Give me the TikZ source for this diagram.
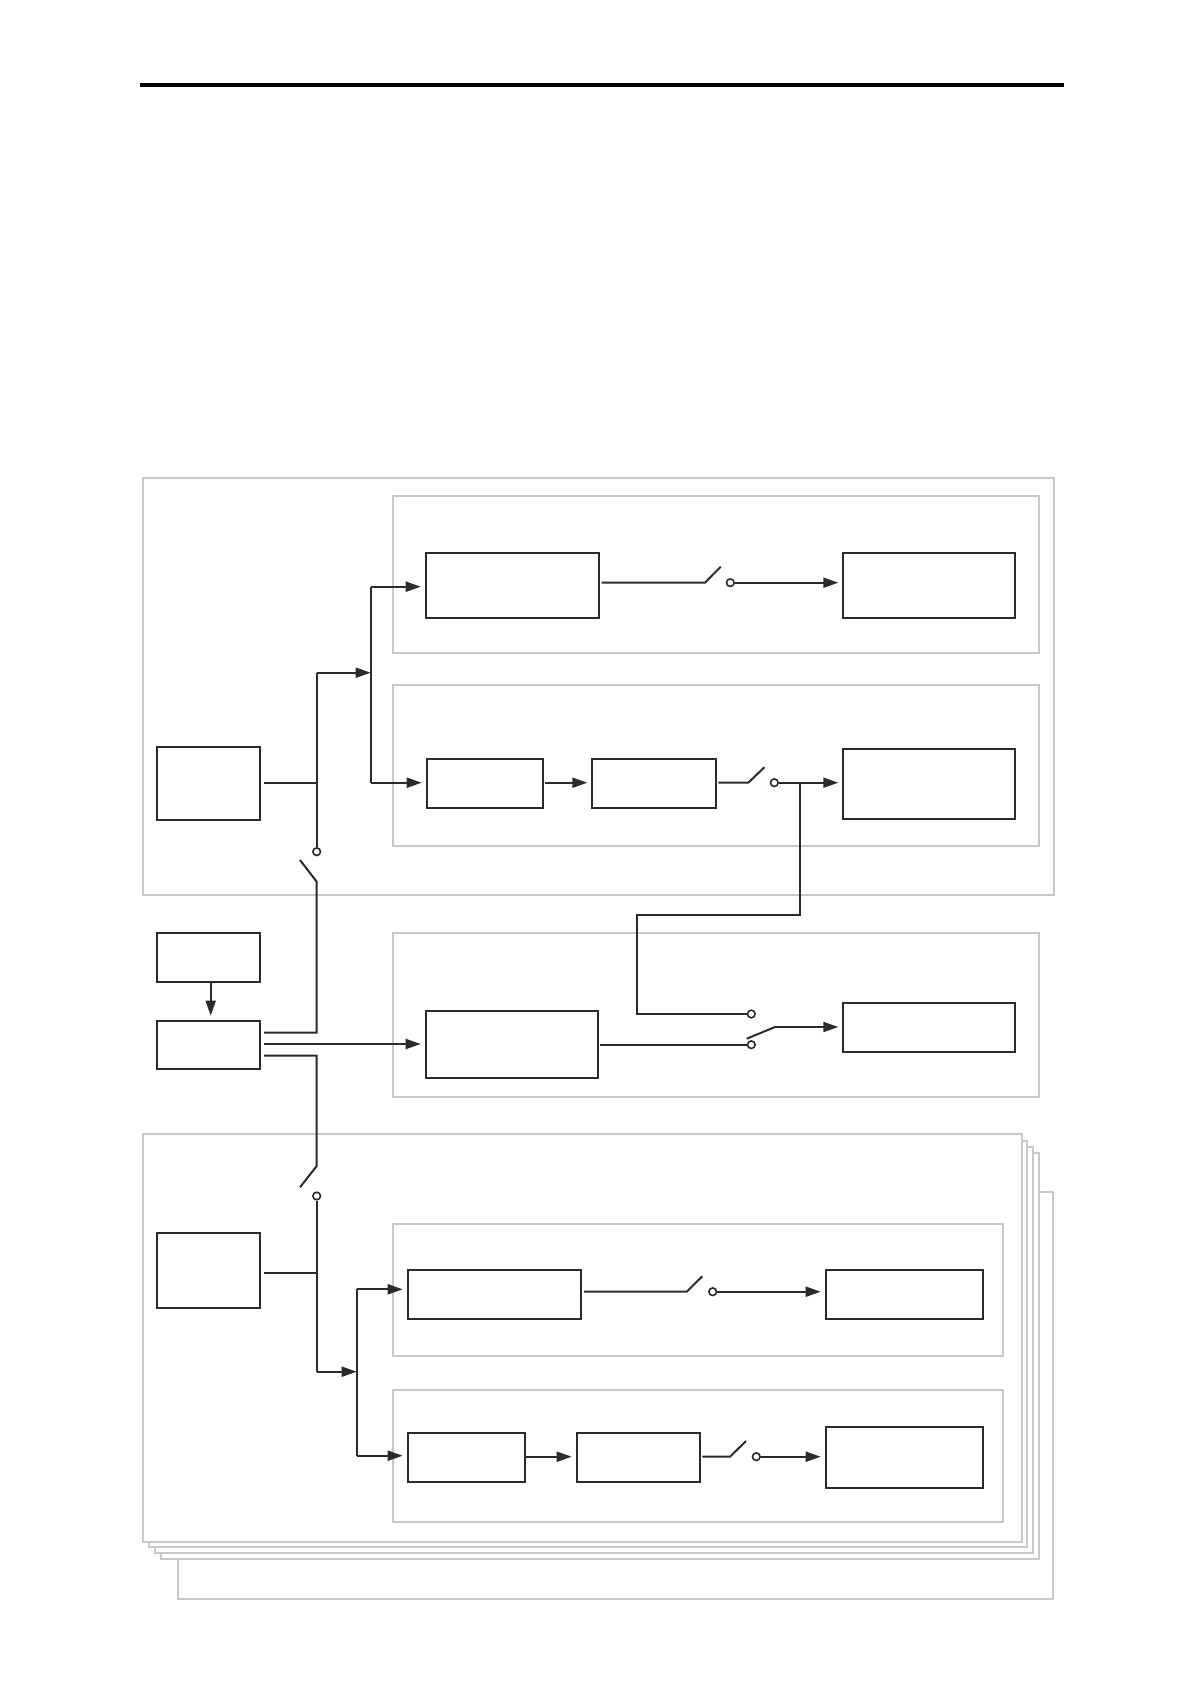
\documentclass[tikz,border=0pt]{standalone}
\usetikzlibrary{arrows.meta,fit,calc}
\definecolor{ink}{HTML}{2B2B2B}
\definecolor{panelgray}{HTML}{C8C8C8}
\tikzset{
  blk/.style={draw=ink, line width=1.1pt, fill=white, inner sep=0pt, outer sep=0pt},
  panel/.style={draw=panelgray, line width=1pt, fill=white},
  wire/.style={draw=ink, line width=1pt},
  arr/.style={wire, -{Triangle[length=7.5pt,width=5pt]}, shorten >=2.5pt},
  barr/.style={wire, -{Triangle[length=7.5pt,width=5pt]}},
  term/.style={circle, draw=ink, line width=0.8pt, fill=white, inner sep=0pt, minimum size=3.8pt}
}
\begin{document}
\begin{tikzpicture}[x=0.5pt,y=-0.5pt]
\useasboundingbox (0,0) rectangle (1190,1684);
% top rule
\draw[line width=2.1pt, black] (140,84.8) -- (1064.3,84.8);

% ---------- panels ----------
\draw[panel] (143.3,478.3) rectangle (1054,895);
\draw[panel] (393.3,496) rectangle (1039.3,653.3);
\draw[panel] (393.3,685) rectangle (1039.3,846);
\draw[panel] (393.3,932.7) rectangle (1039.3,1096.7);
% stacked group
\draw[panel] (177.7,1192) rectangle (1053.3,1599);
\draw[panel] (161.3,1152.7) rectangle (1038.7,1559.3);
\draw[panel] (155.3,1146.7) rectangle (1033.3,1553.3);
\draw[panel] (149.3,1140.7) rectangle (1027.3,1547.3);
\draw[panel] (143.3,1134.3) rectangle (1021.7,1541.7);
\draw[panel] (392.7,1224) rectangle (1003.3,1355.7);
\draw[panel] (392.7,1390) rectangle (1003.3,1521.7);

% ---------- blocks ----------
\node[blk, fit={(157.3,747.3) (260,820)}] (L1) {};
\node[blk, fit={(425.7,552.7) (599.3,618)}] (A1) {};
\node[blk, fit={(843.3,552.7) (1015.3,618)}] (A2) {};
\node[blk, fit={(426.7,758.7) (543.3,808)}] (B1) {};
\node[blk, fit={(592.3,758.7) (716.3,807.7)}] (B2) {};
\node[blk, fit={(843.3,748.7) (1015.3,819)}] (B3) {};
\node[blk, fit={(157.3,933.3) (260,982)}] (C0) {};
\node[blk, fit={(157.3,1020.7) (260,1069)}] (C1) {};
\node[blk, fit={(425.7,1010.7) (598.3,1078)}] (D1) {};
\node[blk, fit={(843.3,1002.7) (1015.3,1052)}] (D2) {};
\node[blk, fit={(157.3,1233.3) (260,1308)}] (E1) {};
\node[blk, fit={(407.7,1269.7) (581.3,1318.7)}] (F1) {};
\node[blk, fit={(825.7,1269.7) (983.3,1319)}] (F2) {};
\node[blk, fit={(407.7,1432.7) (525,1482)}] (G1) {};
\node[blk, fit={(576.7,1432.7) (700.3,1482)}] (G2) {};
\node[blk, fit={(825.7,1426.7) (983.3,1487.7)}] (G3) {};

% ---------- terminals ----------
\node[term] (tS1) at (316.7,851.7) {};
\node[term] (tS2) at (316.7,1196) {};
\node[term] (tA) at (730.3,582.7) {};
\node[term] (tB) at (774.3,782.7) {};
\node[term] (tDa) at (751.3,1014) {};
\node[term] (tDb) at (751.3,1044.7) {};
\node[term] (tF) at (712.7,1291.7) {};
\node[term] (tG) at (756.3,1456.7) {};

% ---------- junction coordinates ----------
\coordinate (j1) at (316.7,782.7);
\coordinate (j1top) at (316.7,672.7);
\coordinate (bus2a) at (370.7,586.7);
\coordinate (bus2b) at (370.7,782.7);
\coordinate (bus2m) at (370.7,672.7);
\coordinate (j3) at (316.7,1272.7);
\coordinate (j3bot) at (316.7,1371.7);
\coordinate (bus3a) at (356.7,1289.3);
\coordinate (bus3b) at (356.7,1455.7);
\coordinate (bus3m) at (356.7,1371.7);

% ---------- top group ----------
\draw[wire] (264,782.7) -- (j1);
\draw[wire] (tS1.north) -- (j1top);
\draw[barr] (j1top) -- (bus2m);
\draw[wire] (bus2a) -- (bus2b);
\draw[arr] (bus2a) -- (bus2a -| A1.west);
\draw[arr] (bus2b) -- (bus2b -| B1.west);
% switch from C1 up to terminal S1
\draw[wire] (264,1032.7) -- (316.7,1032.7) -- (316.7,881.7) -- (300,860);
% A path
\draw[wire] ($(A1.east |- tA)+(2.3,0)$) -- (705,582.7) -- (720.7,566.7);
\draw[arr] (tA.east) -- (tA -| A2.west);
% B path
\draw[arr] ($(B1.east |- 0,782.7)+(2,0)$) -- (B2.west |- 0,782.7);
\draw[wire] ($(B2.east |- 0,782.7)+(2,0)$) -- (748.3,782.7) -- (764.3,767.3);
\draw[arr] (tB.east) -- (tB -| B3.west);
\draw[wire] (800,782.7) -- (800,914.7) -- (637.3,914.7) -- (637.3,1014) -- (tDa.west);

% ---------- middle ----------
\draw[arr] (C0.south -| 210.7,0) -- (C1.north -| 210.7,0);
\draw[arr] (264,1044) -- (D1.west |- 0,1044);
\draw[wire] ($(D1.east |- tDb)+(2,0)$) -- (tDb.west);
\draw[wire] (746.7,1038.7) -- (775,1027);
\draw[arr] (775,1027) -- (D2.west |- 0,1027);

% ---------- bottom group ----------
\draw[wire] (264,1055.7) -- (316.7,1055.7) -- (316.7,1166) -- (300,1187.3);
\draw[wire] (tS2.south) -- (j3bot);
\draw[wire] (264,1272.7) -- (j3);
\draw[barr] (j3bot) -- (bus3m);
\draw[wire] (bus3a) -- (bus3b);
\draw[arr] (bus3a) -- (bus3a -| F1.west);
\draw[arr] (bus3b) -- (bus3b -| G1.west);
\draw[wire] ($(F1.east |- tF)+(2.5,0)$) -- (686.7,1291.7) -- (702.3,1276.3);
\draw[arr] (tF.east) -- (tF -| F2.west);
\draw[arr] ($(G1.east |- tG)+(0.5,0)$) -- (G2.west |- tG);
\draw[wire] ($(G2.east |- tG)+(2,0)$) -- (730,1456.7) -- (746,1441);
\draw[arr] (tG.east) -- (tG -| G3.west);
\end{tikzpicture}
\end{document}
